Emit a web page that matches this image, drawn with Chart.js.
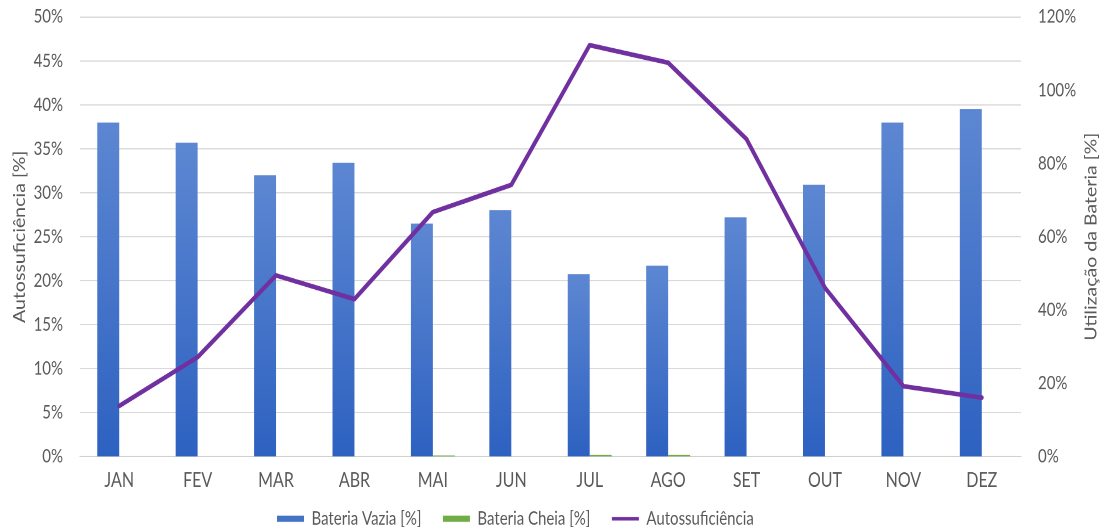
<!DOCTYPE html>
<html lang="pt">
<head>
<meta charset="utf-8">
<title>Autossuficiência e Utilização da Bateria</title>
<script src="https://cdn.jsdelivr.net/npm/chart.js@4.4.1/dist/chart.umd.min.js"></script>
<style>
  html, body { margin: 0; padding: 0; background: #ffffff; overflow: hidden; }
  /* the chart is laid out 436px tall and stretched vertically to fill 532px */
  #wrap { position: absolute; left: 0; top: 0; width: 1106px; height: 436px; transform: scaleY(1.2202); transform-origin: 0 0; }
  #chart { display: block; width: 1106px; height: 436px; }
</style>
</head>
<body>
<div id="wrap"><canvas id="chart" width="1106" height="436"></canvas></div>
<script>
// Months
const months = ['JAN', 'FEV', 'MAR', 'ABR', 'MAI', 'JUN', 'JUL', 'AGO', 'SET', 'OUT', 'NOV', 'DEZ'];

// Battery use (right axis, %)
const bateriaVazia = [91.2, 85.7, 76.8, 80.2, 63.6, 67.3, 49.8, 52.1, 65.3, 74.2, 91.2, 94.8];
const bateriaCheia = [0, 0, 0, 0, 0.3, 0, 0.4, 0.4, 0, 0, 0, 0];

// Self-sufficiency (left axis, %)
const autossuficiencia = [5.75, 11.3, 20.6, 17.9, 27.8, 30.9, 46.8, 44.8, 36.1, 19.2, 8.0, 6.7];

// Axis ranges and titles
const leftTicks = { min: 0, max: 50, step: 5 };
const rightTicks = { min: 0, max: 120, step: 20 };
const leftTitle = 'Autossuficiência [%]';
const rightTitle = 'Utilização da Bateria [%]';
const seriesNames = ['Bateria Vazia [%]', 'Bateria Cheia [%]', 'Autossuficiência'];

const TEXT = '#595959';
const FONT = 'Lato, "Open Sans", sans-serif';
const BLUE = '#4472c4';
const GREEN = '#70ad47';
const PURPLE = '#7030a0';
const LEGEND_PAD = 21.5;
const LEGEND_START_X = 277;

// vertical gradient for each blue bar, lighter at its top
function vaziaFill(ctx) {
  const chart = ctx.chart;
  const scale = chart.scales && chart.scales.yR;
  if (!chart.chartArea || !scale || ctx.type !== 'data') return BLUE;
  const top = scale.getPixelForValue(ctx.raw);
  const bottom = scale.getPixelForValue(0);
  if (!isFinite(top) || !isFinite(bottom) || bottom - top < 1) return BLUE;
  const g = chart.ctx.createLinearGradient(0, top, 0, bottom);
  g.addColorStop(0, '#5d87d2');
  g.addColorStop(1, '#2e62c1');
  return g;
}

// right-hand axis title, reading bottom to top
const rightAxisTitle = {
  id: 'rightAxisTitle',
  afterDraw(chart) {
    const s = chart.scales.yR;
    const area = chart.chartArea;
    const ctx = chart.ctx;
    ctx.save();
    ctx.translate(s.right - 14.5, (area.top + area.bottom) / 2);
    ctx.rotate(-Math.PI / 2);
    ctx.font = '16px ' + FONT;
    ctx.fillStyle = TEXT;
    ctx.textAlign = 'center';
    ctx.textBaseline = 'middle';
    ctx.fillText(rightTitle, 0, 0);
    ctx.restore();
  }
};

// legend row starts a little left of centre, under the plot
const legendPlacement = {
  id: 'legendPlacement',
  afterLayout(chart) {
    const lg = chart.legend;
    if (!lg) return;
    lg.left = LEGEND_START_X - LEGEND_PAD;
    lg.right = chart.width;
    lg.width = lg.right - lg.left;
  }
};

// value axes: fixed width, no extra room reserved above the plot
function fitValueAxis(width) {
  return (scale) => {
    scale.width = width;
    scale.paddingTop = 0;
    scale.paddingBottom = 0;
  };
}

const legendColors = [BLUE, GREEN, PURPLE];

new Chart(document.getElementById('chart'), {
  data: {
    labels: months,
    datasets: [
      {
        type: 'bar', label: seriesNames[0], data: bateriaVazia, yAxisID: 'yR',
        backgroundColor: vaziaFill, borderWidth: 0,
        categoryPercentage: 0.56, barPercentage: 1.0, order: 1
      },
      {
        type: 'bar', label: seriesNames[1], data: bateriaCheia, yAxisID: 'yR',
        backgroundColor: GREEN, borderWidth: 0,
        categoryPercentage: 0.56, barPercentage: 1.0, order: 1
      },
      {
        type: 'line', label: seriesNames[2], data: autossuficiencia, yAxisID: 'y',
        borderColor: PURPLE, backgroundColor: PURPLE, borderWidth: 3.8,
        pointRadius: 0, tension: 0, fill: false, order: 0,
        borderJoinStyle: 'round', borderCapStyle: 'round'
      }
    ]
  },
  options: {
    responsive: false,
    maintainAspectRatio: false,
    devicePixelRatio: 2,
    animation: false,
    layout: { padding: { top: 13.9, left: 4, right: 0, bottom: -6.6 } },
    font: { family: FONT },
    scales: {
      x: {
        type: 'category',
        offset: true,
        grid: { display: false, drawTicks: false },
        border: { display: true, color: '#d0d0d0', width: 1 },
        ticks: { color: TEXT, font: { family: FONT, size: 16 }, padding: 10, maxRotation: 0 },
        afterFit(scale) {
          scale.height = 22;
          // month labels may run below the shortened axis box
          scale._computeLabelArea = () => undefined;
        }
      },
      y: {
        type: 'linear', position: 'left',
        min: leftTicks.min, max: leftTicks.max,
        grid: { color: '#d9d9d9', lineWidth: 1, drawTicks: false },
        border: { display: false },
        ticks: {
          stepSize: leftTicks.step, color: TEXT, padding: 17,
          font: { family: FONT, size: 15 },
          callback: (v) => v + '%'
        },
        title: {
          display: true, text: leftTitle, color: TEXT,
          font: { family: FONT, size: 16 }, padding: { top: 6.4, bottom: 4 }
        },
        afterFit: fitValueAxis(76)
      },
      yR: {
        type: 'linear', position: 'right',
        min: rightTicks.min, max: rightTicks.max,
        grid: { display: false, drawTicks: false },
        border: { display: false },
        ticks: {
          stepSize: rightTicks.step, color: TEXT, padding: 17,
          font: { family: FONT, size: 15 },
          callback: (v) => v + '%'
        },
        afterFit: fitValueAxis(85)
      }
    },
    plugins: {
      tooltip: { enabled: false },
      legend: {
        position: 'bottom',
        align: 'start',
        labels: {
          usePointStyle: true,
          pointStyleWidth: 27,
          boxHeight: 5,
          padding: LEGEND_PAD,
          color: TEXT,
          font: { family: FONT, size: 15 },
          generateLabels: (chart) => chart.data.datasets.map((ds, i) => ({
            text: ds.label,
            fillStyle: legendColors[i],
            strokeStyle: legendColors[i],
            lineWidth: ds.type === 'line' ? 3 : 0,
            pointStyle: ds.type === 'line' ? 'line' : 'rect',
            hidden: false,
            fontColor: TEXT,
            datasetIndex: i
          }))
        }
      }
    }
  },
  plugins: [rightAxisTitle, legendPlacement]
});
</script>
</body>
</html>
